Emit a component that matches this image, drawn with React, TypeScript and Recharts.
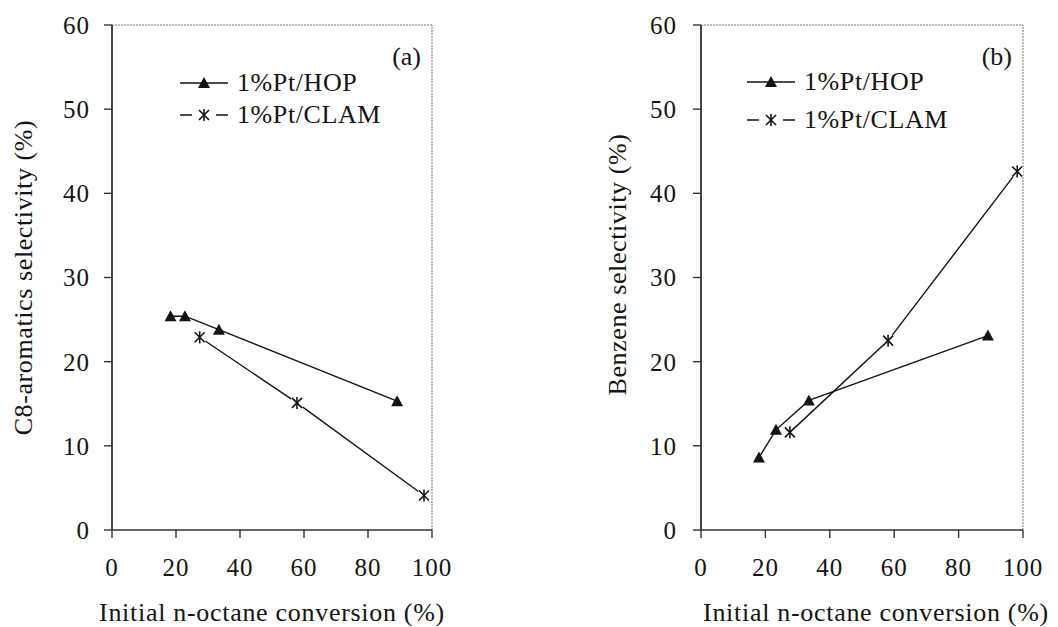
import React from 'react';
import { LineChart, Line, XAxis, YAxis, ReferenceLine, Legend } from 'recharts';

// (a) C8-aromatics selectivity vs initial n-octane conversion
const hopConvA = [18.3, 22.8, 33.4, 89.1];
const hopSelA = [25.4, 25.4, 23.8, 15.3];
const clamConvA = [27.4, 57.8, 97.5];
const clamSelA = [22.9, 15.1, 4.1];

// (b) Benzene selectivity vs initial n-octane conversion
const hopConvB = [18.0, 23.3, 33.5, 89.1];
const hopSelB = [8.6, 11.9, 15.4, 23.1];
const clamConvB = [27.6, 58.1, 98.2];
const clamSelB = [11.6, 22.5, 42.6];

const xTicks = [0, 20, 40, 60, 80, 100];
const yTicks = [0, 10, 20, 30, 40, 50, 60];
const hopName = '1%Pt/HOP';
const clamName = '1%Pt/CLAM';
const seriesOrder = [hopName, clamName];

const FONT = '"Liberation Serif", "Times New Roman", serif';
const INK = '#141414';

const toPoints = (xs: number[], ys: number[]) => xs.map((x, i) => ({ x, y: ys[i] }));

const Triangle = ({ cx, cy }: any) => {
  if (cx == null || cy == null) return null;
  return <polygon points={`${cx},${cy - 6} ${cx - 6},${cy + 5} ${cx + 6},${cy + 5}`} fill={INK} />;
};

const Star = ({ cx, cy, halo = true }: any) => {
  if (cx == null || cy == null) return null;
  return (
    <g stroke={INK} strokeWidth={1.6}>
      {halo && <circle cx={cx} cy={cy} r={7} fill="#fff" stroke="none" />}
      <line x1={cx - 5} y1={cy - 5} x2={cx + 5} y2={cy + 5} />
      <line x1={cx + 5} y1={cy - 5} x2={cx - 5} y2={cy + 5} />
      <line x1={cx} y1={cy - 6} x2={cx} y2={cy + 6} />
    </g>
  );
};

const LegendRows = ({ payload, rowH }: any) => {
  const items = [...(payload || [])].sort(
    (a: any, b: any) => seriesOrder.indexOf(a.value) - seriesOrder.indexOf(b.value)
  );
  return (
    <div style={{ fontFamily: FONT, fontSize: 26, color: INK, letterSpacing: 0.6 }}>
      {items.map((entry: any) => (
        <div key={entry.value} style={{ display: 'flex', alignItems: 'center', height: rowH }}>
          <svg width={48} height={20} style={{ marginRight: 9 }}>
            {entry.value === hopName ? (
              <>
                <line x1={0} y1={10} x2={48} y2={10} stroke={INK} strokeWidth={1.5} />
                <Triangle cx={24} cy={10} />
              </>
            ) : (
              <>
                <line x1={0} y1={10} x2={12} y2={10} stroke={INK} strokeWidth={1.5} />
                <line x1={36} y1={10} x2={48} y2={10} stroke={INK} strokeWidth={1.5} />
                <Star cx={24} cy={10} halo={false} />
              </>
            )}
          </svg>
          <span>{entry.value}</span>
        </div>
      ))}
    </div>
  );
};

const CornerTag = ({ viewBox, text, dx }: any) => (
  <text x={viewBox.x - dx} y={viewBox.y + 40} textAnchor="end" fontFamily={FONT} fontSize={26} fill={INK}>
    {text}
  </text>
);

const YTitle = ({ viewBox, text, cx, dy }: any) => {
  const x = viewBox.x + cx;
  const y = viewBox.y + viewBox.height / 2 + dy;
  return (
    <text x={x} y={y} transform={`rotate(-90 ${x} ${y})`} textAnchor="middle" dominantBaseline="central"
      fontFamily={FONT} fontSize={26} fill={INK} letterSpacing={0.6}>
      {text}
    </text>
  );
};

const XTitle = ({ viewBox, text, dx }: any) => (
  <text x={viewBox.x + viewBox.width / 2 + dx} y={viewBox.y + 91} textAnchor="middle"
    fontFamily={FONT} fontSize={26} fill={INK} letterSpacing={0.7}>
    {text}
  </text>
);

interface PanelProps {
  hop: { x: number; y: number }[];
  clam: { x: number; y: number }[];
  tag: string;
  yTitle: string;
  width: number;
  yAxisWidth: number;
  marginRight: number;
  yTickMargin: number;
  yTitleX: number;
  yTitleDy: number;
  xTitleDx: number;
  legendLeft: number;
  legendTop: number;
  legendRowH: number;
}

function Panel(p: PanelProps) {
  const tick = { fontSize: 25, fill: INK, fontFamily: FONT, letterSpacing: 1 };
  return (
    <LineChart width={p.width} height={627} margin={{ top: 25, right: p.marginRight, bottom: 0, left: 0 }}>
      <XAxis type="number" dataKey="x" domain={[0, 100]} ticks={xTicks} allowDataOverflow
        height={97} tickSize={8} tickMargin={20} tick={tick}
        axisLine={{ stroke: '#333', strokeWidth: 1.6 }} tickLine={{ stroke: '#333', strokeWidth: 1.4 }}
        label={{ content: (lp: any) => <XTitle {...lp} text="Initial n-octane conversion (%)" dx={p.xTitleDx} /> }} />
      <YAxis type="number" domain={[0, 60]} ticks={yTicks} width={p.yAxisWidth}
        tickSize={8} tickMargin={p.yTickMargin} tick={tick}
        axisLine={{ stroke: '#333', strokeWidth: 1.8 }} tickLine={{ stroke: '#333', strokeWidth: 1.4 }}
        label={{ content: (lp: any) => <YTitle {...lp} text={p.yTitle} cx={p.yTitleX} dy={p.yTitleDy} /> }} />
      <ReferenceLine y={60} stroke="#777" strokeWidth={1} strokeDasharray="2 1" />
      <ReferenceLine x={100} stroke="#777" strokeWidth={1} strokeDasharray="2 1"
        label={{ content: (lp: any) => <CornerTag {...lp} text={p.tag} dx={11} /> }} />
      <Legend layout="vertical" align="center" verticalAlign="middle"
        wrapperStyle={{ left: p.legendLeft, top: p.legendTop, width: 'auto' }}
        content={(lp: any) => <LegendRows {...lp} rowH={p.legendRowH} />} />
      <Line data={p.hop} dataKey="y" name={hopName} stroke={INK} strokeWidth={1.4}
        dot={<Triangle />} activeDot={false} isAnimationActive={false} />
      <Line data={p.clam} dataKey="y" name={clamName} stroke={INK} strokeWidth={1.4}
        dot={<Star />} activeDot={false} isAnimationActive={false} />
    </LineChart>
  );
}

export default function App() {
  return (
    <div style={{ position: 'absolute', left: 0, top: 0, width: 1058, height: 627, background: '#fff' }}>
      <div style={{ position: 'absolute', left: 0, top: 0 }}>
        <Panel hop={toPoints(hopConvA, hopSelA)} clam={toPoints(clamConvA, clamSelA)} tag="(a)"
          yTitle="C8-aromatics selectivity (%)" width={530} yAxisWidth={112} marginRight={98}
          yTickMargin={14} yTitleX={23} yTitleDy={0} xTitleDx={0}
          legendLeft={180} legendTop={67} legendRowH={32} />
      </div>
      <div style={{ position: 'absolute', left: 530, top: 0 }}>
        <Panel hop={toPoints(hopConvB, hopSelB)} clam={toPoints(clamConvB, clamSelB)} tag="(b)"
          yTitle="Benzene selectivity (%)" width={528} yAxisWidth={171} marginRight={35}
          yTickMargin={16} yTitleX={87} yTitleDy={-13} xTitleDx={14}
          legendLeft={217} legendTop={63} legendRowH={38} />
      </div>
    </div>
  );
}
